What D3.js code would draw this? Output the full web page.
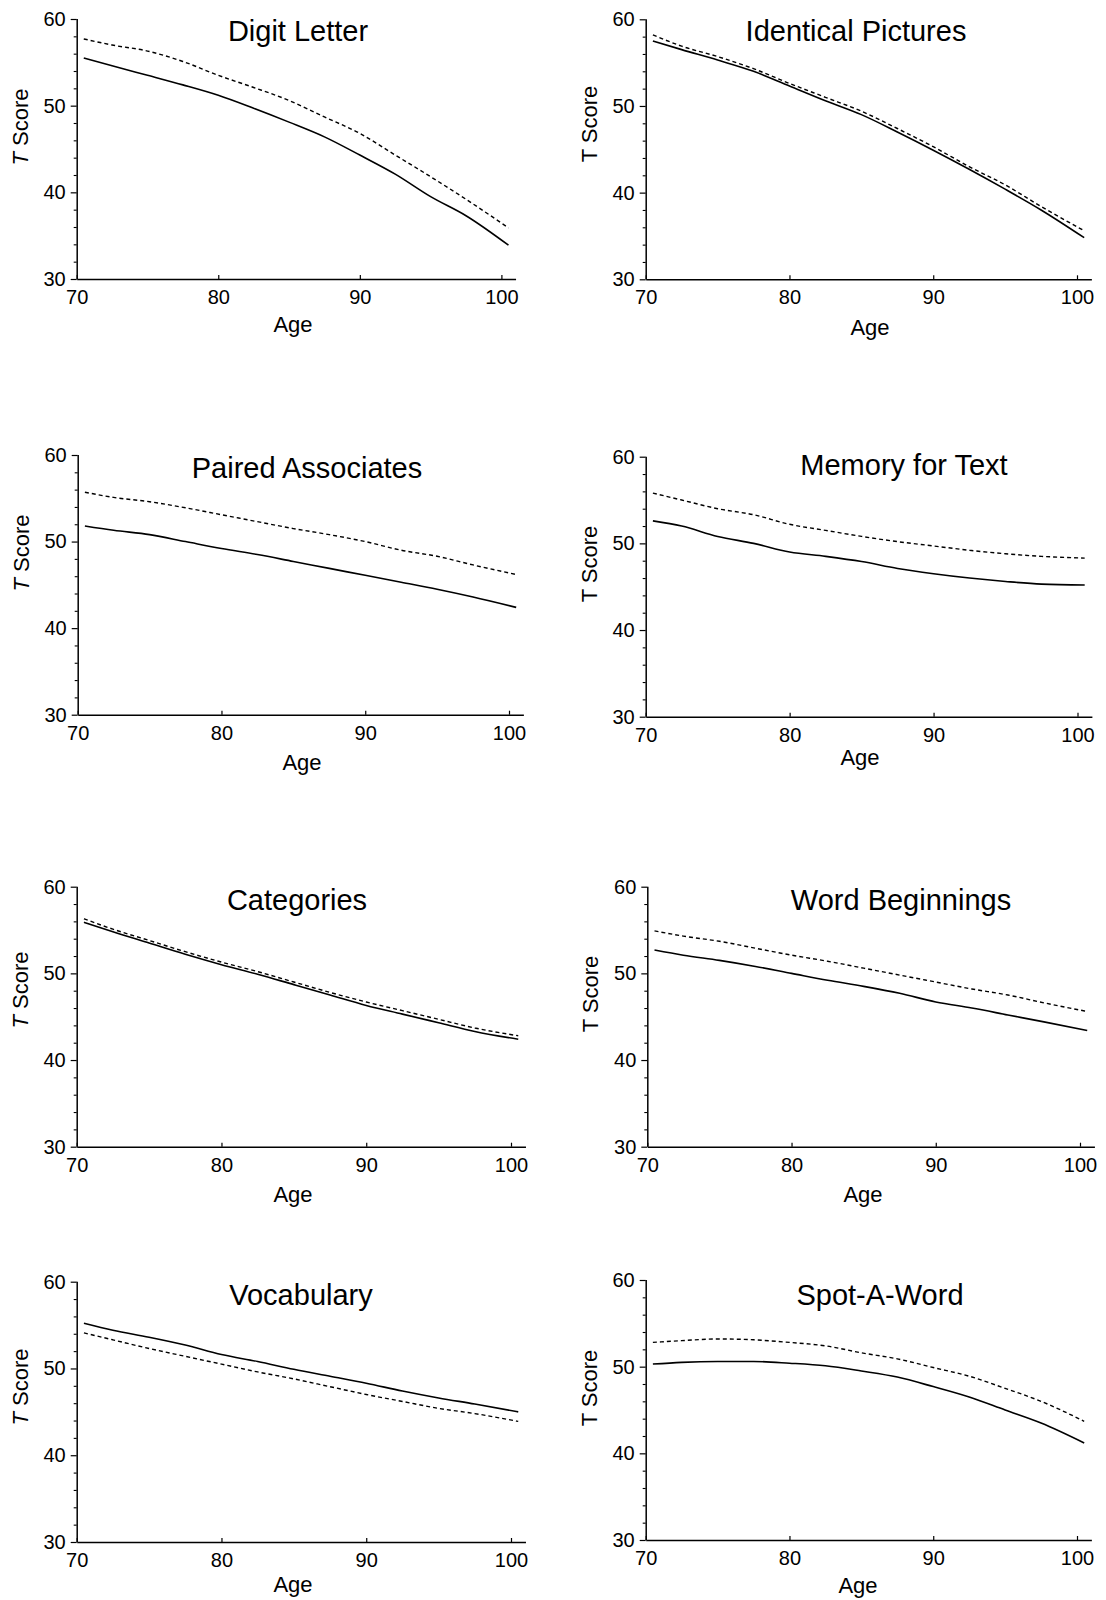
<!DOCTYPE html>
<html>
<head>
<meta charset="utf-8">
<script src="https://cdn.jsdelivr.net/npm/d3@7"></script>
<style>
  html, body { margin: 0; padding: 0; background: #fff; }
  svg { display: block; }
  text { font-family: "Liberation Sans", Arial, Helvetica, sans-serif; fill: #000; }
</style>
</head>
<body>
<svg id="chart" width="1106" height="1600"></svg>
<script>
// ---- data ----
const ages = [70.5, 72.5, 75, 77.5, 80, 82.5, 85, 87.5, 90, 92.5, 95, 97.5, 100.5];
const titles = ["Digit Letter", "Identical Pictures", "Paired Associates", "Memory for Text",
                "Categories", "Word Beginnings", "Vocabulary", "Spot-A-Word"];
const yTicks = [30, 40, 50, 60];
const yMinorTicks = [32, 34, 36, 38, 42, 44, 46, 48, 52, 54, 56, 58];
const xTicks = [70, 80, 90, 100];
const xLabel = "Age";
const yLabel = "Score";

const digitLetterSolid  = [55.5, 54.6, 53.5, 52.4, 51.2, 49.7, 48.1, 46.4, 44.3, 42.1, 39.5, 37.3, 33.9];
const digitLetterDashed = [57.7, 57.0, 56.3, 55.1, 53.5, 52.1, 50.6, 48.7, 46.8, 44.3, 41.8, 39.2, 35.9];

const identicalSolid  = [57.5, 56.5, 55.3, 54.0, 52.3, 50.6, 49.0, 47.0, 44.9, 42.7, 40.4, 38.0, 34.8];
const identicalDashed = [58.2, 56.9, 55.7, 54.3, 52.6, 51.0, 49.4, 47.4, 45.3, 43.0, 40.9, 38.4, 35.6];

const pairedSolid  = [51.8, 51.3, 50.8, 50.0, 49.2, 48.5, 47.7, 46.9, 46.1, 45.3, 44.5, 43.6, 42.4];
const pairedDashed = [55.7, 55.1, 54.6, 53.9, 53.1, 52.3, 51.5, 50.8, 50.0, 49.0, 48.3, 47.3, 46.2];

const memorySolid  = [52.6, 52.0, 50.8, 50.0, 49.0, 48.5, 47.9, 47.1, 46.5, 46.0, 45.6, 45.3, 45.2];
const memoryDashed = [55.8, 55.0, 54.0, 53.3, 52.2, 51.5, 50.8, 50.2, 49.7, 49.2, 48.8, 48.5, 48.3];

const categoriesSolid  = [55.9, 54.8, 53.5, 52.2, 51.0, 49.9, 48.7, 47.5, 46.3, 45.3, 44.3, 43.3, 42.4];
const categoriesDashed = [56.3, 55.1, 53.8, 52.5, 51.3, 50.2, 49.0, 47.8, 46.7, 45.7, 44.7, 43.7, 42.8];

const wordBegSolid  = [52.7, 52.1, 51.5, 50.8, 50.0, 49.2, 48.5, 47.7, 46.7, 46.0, 45.2, 44.4, 43.4];
const wordBegDashed = [54.9, 54.3, 53.7, 52.9, 52.1, 51.4, 50.6, 49.8, 49.0, 48.2, 47.5, 46.6, 45.6];

const vocabSolid  = [55.2, 54.4, 53.6, 52.7, 51.6, 50.8, 49.9, 49.1, 48.3, 47.4, 46.6, 45.9, 45.0];
const vocabDashed = [54.1, 53.3, 52.3, 51.4, 50.5, 49.6, 48.8, 47.9, 47.0, 46.2, 45.4, 44.8, 43.9];

const spotSolid  = [50.3, 50.5, 50.6, 50.6, 50.4, 50.1, 49.5, 48.8, 47.7, 46.5, 45.0, 43.5, 41.2];
const spotDashed = [52.8, 53.0, 53.2, 53.1, 52.8, 52.4, 51.6, 50.9, 49.9, 48.9, 47.5, 46.0, 43.7];

const solidSeries  = [digitLetterSolid, identicalSolid, pairedSolid, memorySolid,
                      categoriesSolid, wordBegSolid, vocabSolid, spotSolid];
const dashedSeries = [digitLetterDashed, identicalDashed, pairedDashed, memoryDashed,
                      categoriesDashed, wordBegDashed, vocabDashed, spotDashed];

// ---- layout (pixel positions of each panel) ----
const layout = [
  {x0: 76.7,  x100: 501.4,  y0: 19,    y1: 279,    tx: 298, ty: 41,   ax: 293, ay: 332,  ly: 127,  italic: true},
  {x0: 645.7, x100: 1077,   y0: 19.3,  y1: 279.3,  tx: 856, ty: 41,   ax: 870, ay: 335,  ly: 124,  italic: false},
  {x0: 77.7,  x100: 509,    y0: 455,   y1: 714.7,  tx: 307, ty: 478,  ax: 302, ay: 770,  ly: 553,  italic: true},
  {x0: 645.7, x100: 1077.5, y0: 456.7, y1: 716.7,  tx: 904, ty: 475,  ax: 860, ay: 765,  ly: 564,  italic: false},
  {x0: 76.7,  x100: 511,    y0: 886.7, y1: 1146.7, tx: 297, ty: 910,  ax: 293, ay: 1202, ly: 990,  italic: true},
  {x0: 647.3, x100: 1080,   y0: 886.7, y1: 1146.7, tx: 901, ty: 910,  ax: 863, ay: 1202, ly: 994,  italic: false},
  {x0: 76.7,  x100: 511,    y0: 1281.7,y1: 1542,   tx: 301, ty: 1305, ax: 293, ay: 1592, ly: 1387, italic: true},
  {x0: 645.7, x100: 1077,   y0: 1280,  y1: 1540,   tx: 880, ty: 1305, ax: 858, ay: 1593, ly: 1388, italic: false}
];

const svg = d3.select("#chart");
const FONT = "'Liberation Sans', Arial, sans-serif";

layout.forEach((L, i) => {
  const unit = (L.x100 - L.x0) / 30;
  const x = d3.scaleLinear().domain([70, 101]).range([L.x0, L.x0 + 31 * unit]);
  const y = d3.scaleLinear().domain([30, 60]).range([L.y1, L.y0]);
  const g = svg.append("g");

  // y axis: major ticks with labels
  const yAxis = g.append("g").attr("transform", `translate(${L.x0},0)`)
    .call(d3.axisLeft(y).tickValues(yTicks).tickSize(6).tickPadding(5).tickFormat(d3.format("d")));
  yAxis.selectAll("text").style("font-size", "20px").style("font-family", FONT).attr("fill", "#000");
  yAxis.selectAll("line").attr("stroke", "#000").attr("stroke-width", 1.2);
  yAxis.select(".domain").attr("stroke", "#000").attr("stroke-width", 1.5)
    .attr("d", `M0.5,${y(60)}V${y(30)}`);

  // y minor ticks
  g.append("g").attr("transform", `translate(${L.x0},0)`)
    .call(d3.axisLeft(y).tickValues(yMinorTicks).tickSize(3).tickFormat(""))
    .call(s => s.select(".domain").remove())
    .selectAll("line").attr("stroke", "#000").attr("stroke-width", 1.1);

  // x axis (ticks pointing inward)
  const xAxis = g.append("g").attr("transform", `translate(0,${L.y1})`)
    .call(d3.axisBottom(x).tickValues(xTicks).tickSizeInner(-4).tickSizeOuter(0).tickPadding(11).tickFormat(d3.format("d")));
  xAxis.selectAll("text").style("font-size", "20px").style("font-family", FONT).attr("fill", "#000");
  xAxis.selectAll("line").attr("stroke", "#000").attr("stroke-width", 1.2);
  xAxis.select(".domain").attr("stroke", "#000").attr("stroke-width", 1.5);

  // lines
  const pts = (vals) => ages.map((a, j) => [a, vals[j]]);
  const line = d3.line().x(d => x(d[0])).y(d => y(d[1])).curve(d3.curveMonotoneX);

  g.append("path").attr("d", line(pts(dashedSeries[i])))
    .attr("fill", "none").attr("stroke", "#000").attr("stroke-width", 1.4)
    .attr("stroke-dasharray", "4,3");
  g.append("path").attr("d", line(pts(solidSeries[i])))
    .attr("fill", "none").attr("stroke", "#000").attr("stroke-width", 1.6);

  // title
  g.append("text").attr("x", L.tx).attr("y", L.ty).attr("text-anchor", "middle")
    .style("font-size", "29px").text(titles[i]);

  // x label
  g.append("text").attr("x", L.ax).attr("y", L.ay).attr("text-anchor", "middle")
    .style("font-size", "22px").text(xLabel);

  // y label
  const yl = g.append("text")
    .attr("transform", `translate(${L.x0 - 49},${L.ly}) rotate(-90)`)
    .attr("text-anchor", "middle").style("font-size", "22px");
  yl.append("tspan").style("font-style", L.italic ? "italic" : "normal").text("T");
  yl.append("tspan").text(" " + yLabel);
});
</script>
</body>
</html>
